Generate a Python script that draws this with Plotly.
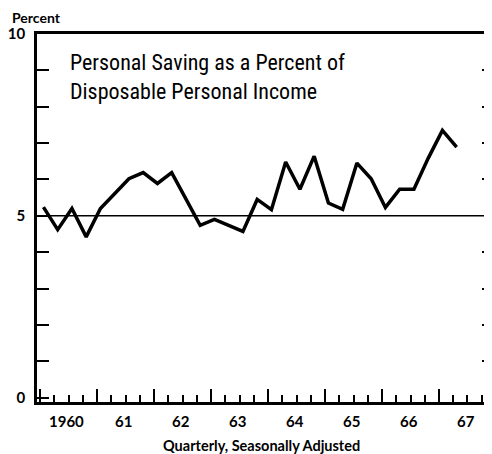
import plotly.graph_objects as go

# ---- data ----
years = [1960] * 4 + [1961] * 4 + [1962] * 4 + [1963] * 4 + [1964] * 4 + [1965] * 4 + [1966] * 4 + [1967] * 2
quarters = [1, 2, 3, 4] * 7 + [1, 2]
saving_rate = [5.24, 4.62, 5.20, 4.42,
               5.20, 5.62, 6.02, 6.19,
               5.89, 6.19, 5.46, 4.74,
               4.90, 4.74, 4.57, 5.45,
               5.17, 6.48, 5.73, 6.64,
               5.35, 5.18, 6.45, 6.02,
               5.23, 5.73, 5.73, 6.58,
               7.35, 6.89]
label_years = [1960, 1961, 1962, 1963, 1964, 1965, 1966, 1967]
year_labels = ["1960", "61", "62", "63", "64", "65", "66", "67"]
y_tick_values = [0, 1, 2, 3, 4, 5, 6, 7, 8, 9, 10]
y_tick_text = ["0", "", "", "", "", "5", "", "", "", "", "10"]

POINT_OFFSET = 0.06
x_vals = [y + (q - 1) / 4 + POINT_OFFSET for y, q in zip(years, quarters)]

LABEL_FONT = dict(family="Lato, DejaVu Sans, sans-serif", size=15, color="black", weight="bold")
TITLE_FONT = dict(family="Roboto Condensed, Liberation Sans Narrow, Liberation Sans, sans-serif",
                  size=22, color="black")

fig = go.Figure()
fig.add_trace(go.Scatter(x=x_vals, y=saving_rate, mode="lines",
                         line=dict(color="black", width=3.5), hoverinfo="skip"))
# invisible trace so the right-hand tick axis is drawn
fig.add_trace(go.Scatter(x=[x_vals[0]], y=[saving_rate[0]], yaxis="y2", mode="markers",
                         marker=dict(opacity=0), hoverinfo="skip", showlegend=False))

fig.add_hline(y=5, line=dict(color="black", width=1.5))

X0, X1 = 1959.947, 1967.93
fig.update_layout(
    width=484, height=446,
    margin=dict(l=29, r=0, t=25.5, b=52),
    paper_bgcolor="white", plot_bgcolor="white",
    showlegend=False,
    xaxis=dict(range=[X0, X1], showgrid=False, zeroline=False,
               showline=True, linecolor="black", linewidth=2.5, mirror=True,
               tickmode="linear", tick0=1960, dtick=1, ticks="inside", ticklen=13,
               tickwidth=2, tickcolor="black", showticklabels=False,
               minor=dict(tickmode="linear", tick0=1960, dtick=0.25, ticks="inside",
                          ticklen=7, tickwidth=1.5, tickcolor="black")),
    yaxis=dict(range=[-0.12, 10], showgrid=False, zeroline=False,
               showline=True, linecolor="black", linewidth=2.5,
               tickmode="array", tickvals=y_tick_values, ticktext=y_tick_text,
               ticks="inside", ticklen=12, tickwidth=1.5, tickcolor="black",
               tickfont=LABEL_FONT, ticklabelstandoff=6),
    yaxis2=dict(range=[-0.12, 10], overlaying="y", side="right", showgrid=False,
                zeroline=False, showline=False,
                tickmode="array", tickvals=[1, 2, 3, 4, 6, 7, 8, 9],
                ticks="inside", ticklen=10, tickwidth=1.5, tickcolor="black",
                showticklabels=False),
)

# title inside plot
fig.add_annotation(text="Personal Saving as a Percent of<br>Disposable Personal Income",
                   xref="paper", yref="paper", x=0.068, y=0.962, xanchor="left", yanchor="top",
                   align="left", showarrow=False, font=TITLE_FONT)

# year labels centred in each year interval
for yr, lab in zip(label_years, year_labels):
    fig.add_annotation(text=lab, xref="x", yref="paper", x=yr + 0.5 - 0.03, y=-0.052,
                       xanchor="center", yanchor="middle", showarrow=False, font=LABEL_FONT)

fig.add_annotation(text="Quarterly, Seasonally Adjusted", xref="paper", yref="paper",
                   x=0.4945, y=-0.119, xanchor="center", yanchor="middle", showarrow=False,
                   font=dict(family="Lato, DejaVu Sans, sans-serif", size=14.5, color="black", weight="bold"))

fig.add_annotation(text="Percent", xref="paper", yref="paper", x=-0.0593, y=1.045,
                   xanchor="left", yanchor="middle", showarrow=False,
                   font=dict(family="Lato, DejaVu Sans, sans-serif", size=14, color="black", weight="bold"))

fig.write_html("out.html")
